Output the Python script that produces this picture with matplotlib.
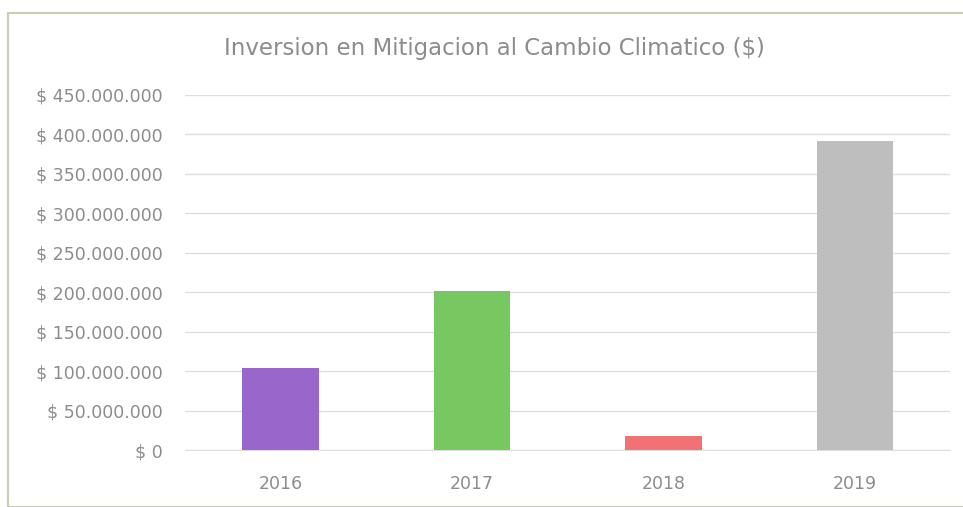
import matplotlib.pyplot as plt
from matplotlib.patches import Rectangle
from matplotlib.ticker import FuncFormatter

# Datos
anios = ['2016', '2017', '2018', '2019']
inversion = [104000000, 201000000, 18000000, 391000000]
colores = ['#9966CC', '#77C861', '#F07272', '#BEBEBE']
ticks_y = [0, 50000000, 100000000, 150000000, 200000000,
           250000000, 300000000, 350000000, 400000000, 450000000]

gris = '#8C8C8C'

fig = plt.figure(figsize=(9.63, 5.07), dpi=100)
fig.patch.set_facecolor('white')

# Marco del grafico (como el cuadro de Excel escaneado)
fig.patches.append(Rectangle((0.008, 0.0), 0.995, 0.974, transform=fig.transFigure,
                             fill=False, edgecolor='#C9CDB0', linewidth=1.5))

ax = fig.add_axes([0.192, 0.112, 0.795, 0.701])
ax.bar(anios, inversion, width=0.4, color=colores, zorder=3)

ax.set_ylim(0, 450000000)
ax.set_yticks(ticks_y)
ax.yaxis.set_major_formatter(FuncFormatter(
    lambda v, p: '$ ' + format(int(v), ',').replace(',', '.')))
ax.set_xlim(-0.5, 3.5)

ax.grid(axis='y', color='#DEDEDE', linewidth=1, zorder=0)
ax.grid(axis='y', color='#DEDEDE', linewidth=1, zorder=0)
ax.set_axisbelow(True)
ax.spines['bottom'].set_color('#DEDEDE')
ax.spines['top'].set_visible(False)
ax.spines['left'].set_visible(False)
ax.spines['right'].set_visible(False)
ax.tick_params(axis='both', length=0, colors=gris, labelsize=12.5)
ax.tick_params(axis='y', pad=16)
ax.tick_params(axis='x', pad=18)

fig.text(0.513, 0.905, 'Inversion en Mitigacion al Cambio Climatico ($)',
         ha='center', va='center', fontsize=16.5, color=gris)

plt.savefig('out.png', dpi=100)
